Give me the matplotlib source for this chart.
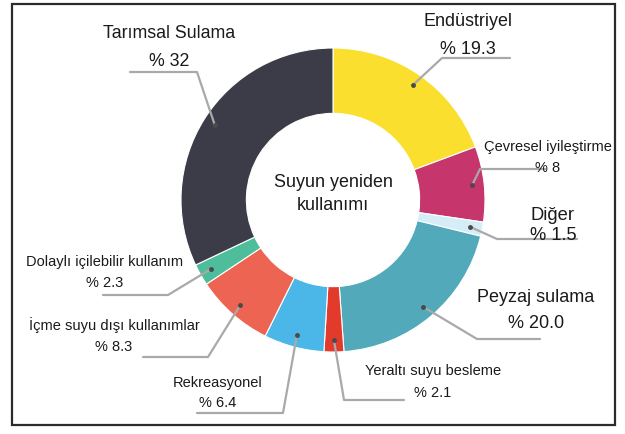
import matplotlib.pyplot as plt
import numpy as np
from matplotlib.patches import Rectangle

# veriler (saat yönünde, tepeden başlayarak)
labels = ["Endüstriyel", "Çevresel iyileştirme", "Diğer", "Peyzaj sulama",
          "Yeraltı suyu besleme", "Rekreasyonel", "İçme suyu dışı kullanımlar",
          "Dolaylı içilebilir kullanım", "Tarımsal Sulama"]
values = [19.3, 8, 1.5, 20.0, 2.1, 6.4, 8.3, 2.3, 32]
value_text = ["% 19.3", "% 8", "% 1.5", "% 20.0", "% 2.1", "% 6.4", "% 8.3", "% 2.3", "% 32"]
colors = ["#fbdf2e", "#c6356b", "#d5edf6", "#51a9b9", "#e23b2b",
          "#4bb7e9", "#ee6452", "#4dbd9b", "#3b3c47"]
center_title = "Suyun yeniden\nkullanımı"

# yerleşim (piksel, y aşağı): metin merkezi x, satır1 y, satır2 y, punto,
# çizgi y, çizgi dirsek x, çizgi uç x
layout = [
    (468, 21, 50, 12.9, 58, 442, 510),
    (548, 147, 168, 10.5, 169, 480, 545),
    (553, 215, 236, 13.2, 239, 497, 577),
    (536, 298, 323, 13.0, 339, 477, 540),
    (433, 371, 393, 10.5, 400, 344, 404),
    (218, 383, 403, 10.5, 413, 283, 197),
    (114, 325, 347, 10.5, 357, 208, 143),
    (105, 262, 283, 10.5, 295, 168, 103),
    (169, 34, 61, 12.8, 72, 197, 130),
]

plt.rcParams['font.family'] = ['Liberation Sans', 'DejaVu Sans']

W, H = 625, 434
fig = plt.figure(figsize=(W / 100, H / 100), dpi=100)
ax = fig.add_axes([0, 0, 1, 1])

cx, cy, R = 333, 200, 152
wedges, _ = ax.pie(values, colors=colors, startangle=-90, counterclock=True,
                   center=(cx, cy), radius=R,
                   wedgeprops=dict(width=R * 0.43, edgecolor='white', linewidth=0.8))

ax.set_xlim(0, W)
ax.set_ylim(H, 0)
ax.set_aspect('equal')
ax.axis('off')

for w, lab, vt, (tx, ty1, ty2, fs, ly, ex, fx) in zip(wedges, labels, value_text, layout):
    mid = np.deg2rad((w.theta1 + w.theta2) / 2)
    dx = cx + R * 0.92 * np.cos(mid)
    dy = cy + R * 0.92 * np.sin(mid)
    ax.plot([dx, ex, fx], [dy, ly, ly], color='#a9a9a9', linewidth=1.6,
            solid_capstyle='round', zorder=3)
    ax.plot(dx, dy, 'o', color='#4a4a4a', markersize=2.5, zorder=4)
    ax.text(tx, ty1, lab, ha='center', va='center', fontsize=fs, color='#1a1a1a', zorder=5)
    ax.text(tx, ty2, vt, ha='center', va='center', fontsize=fs, color='#1a1a1a', zorder=5)

ax.text(cx, 194, center_title, ha='center', va='center', fontsize=12.9,
        color='#1a1a1a', linespacing=1.45)

# çerçeve
fig.patches.append(Rectangle((12 / W, 1 - 425 / H), 603 / W, 421 / H,
                             transform=fig.transFigure, fill=False,
                             edgecolor='#2b2b2b', linewidth=1.6))

fig.savefig("out.png", dpi=100)
